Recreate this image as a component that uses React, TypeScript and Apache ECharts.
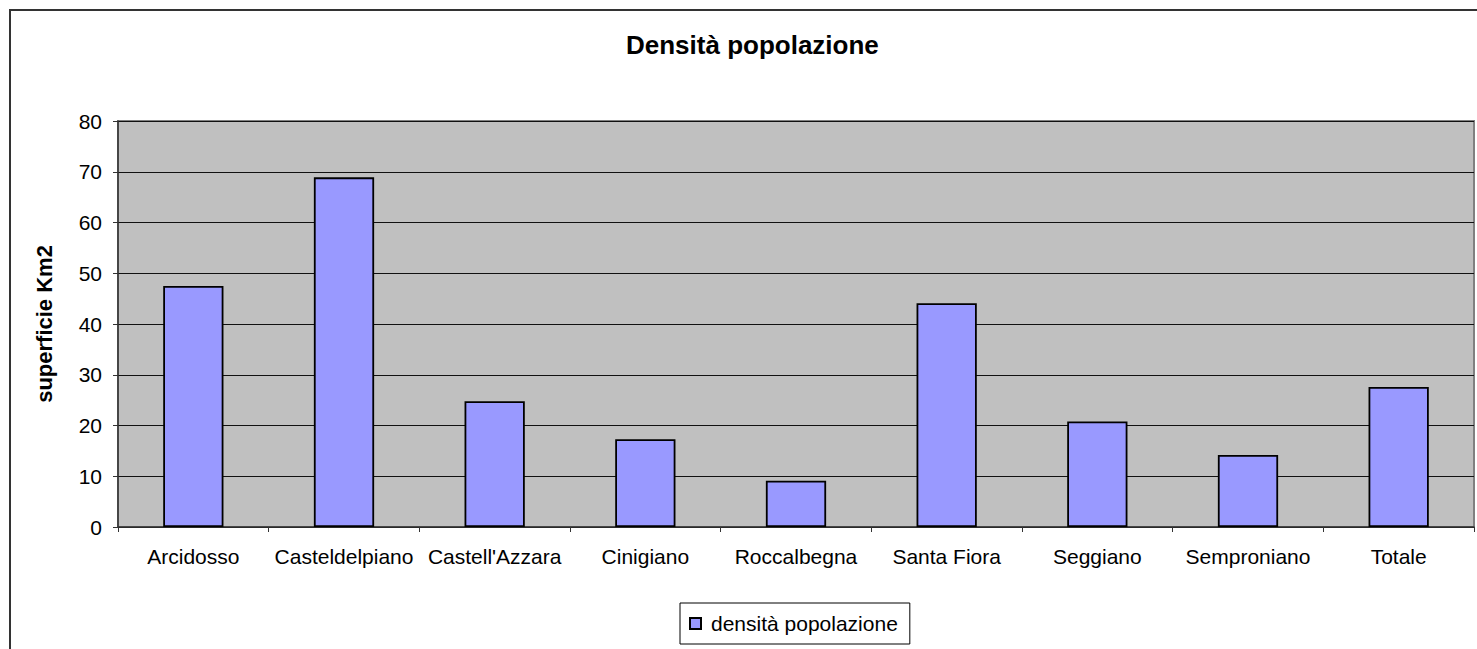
import React, { useEffect, useRef } from "react";
import * as echarts from "echarts";

const categories = ["Arcidosso", "Casteldelpiano", "Castell'Azzara", "Cinigiano", "Roccalbegna", "Santa Fiora", "Seggiano", "Semproniano", "Totale"];
const densita = [47.5, 68.9, 24.8, 17.3, 9.1, 44.1, 20.8, 14.2, 27.6];
const seriesName = "densità popolazione";
const titleText = "Densità popolazione";
const yAxisName = "superficie Km2";

const FONT = "'Liberation Sans', Arial, sans-serif";

export default function App() {
  const ref = useRef<HTMLDivElement>(null);
  useEffect(() => {
    if (!ref.current) return;
    const chart = echarts.init(ref.current, null, { renderer: "svg" });
    chart.setOption({
      animation: false,
      backgroundColor: "#ffffff",
      title: {
        text: titleText,
        left: 621,
        top: 27,
        textStyle: { fontFamily: FONT, fontSize: 26, fontWeight: "bold", color: "#000" },
      },
      graphic: [
        {
          type: "rect",
          shape: { x: 10, y: 10, width: 1600, height: 800 },
          style: { fill: "none", stroke: "#333", lineWidth: 2 },
          z: -1,
          silent: true,
        },
      ],
      legend: {
        data: [seriesName],
        left: 680,
        top: 603,
        padding: [10, 12, 10, 9],
        itemWidth: 11,
        itemHeight: 11,
        borderColor: "#000",
        borderWidth: 1,
        icon: "rect",
        textStyle: { fontFamily: FONT, fontSize: 21, color: "#000", padding: [0, 0, 0, 5] },
      },
      grid: {
        left: 118,
        right: 3,
        top: 121,
        bottom: 122,
        show: true,
        backgroundColor: "#C0C0C0",
        borderColor: "#808080",
        borderWidth: 2,
        containLabel: false,
      },
      xAxis: {
        type: "category",
        data: categories,
        axisLine: { lineStyle: { color: "#333", width: 1.5 } },
        axisTick: { show: true, length: 5, interval: 0, lineStyle: { color: "#333" } },
        axisLabel: {
          interval: 0,
          margin: 19,
          fontFamily: FONT,
          fontSize: 21,
          color: "#000",
        },
      },
      yAxis: {
        type: "value",
        min: 0,
        max: 80,
        interval: 10,
        name: yAxisName,
        nameLocation: "middle",
        nameGap: 63,
        nameTextStyle: { fontFamily: FONT, fontSize: 22, fontWeight: "bold", color: "#000" },
        axisLine: { show: true, lineStyle: { color: "#333", width: 1.5 } },
        axisTick: { show: true, length: 5, lineStyle: { color: "#333" } },
        axisLabel: { margin: 16, fontFamily: FONT, fontSize: 21, color: "#000" },
        splitLine: { show: true, lineStyle: { color: "#111", width: 1.2 } },
      },
      series: [
        {
          name: seriesName,
          type: "bar",
          data: densita,
          barWidth: "40%",
          itemStyle: { color: "#9999FF", borderColor: "#000", borderWidth: 1.8 },
        },
      ],
    });
    return () => chart.dispose();
  }, []);
  return (
    <div
      ref={ref}
      style={{ position: "fixed", left: 0, top: 0, width: 1477, height: 649 }}
    />
  );
}
